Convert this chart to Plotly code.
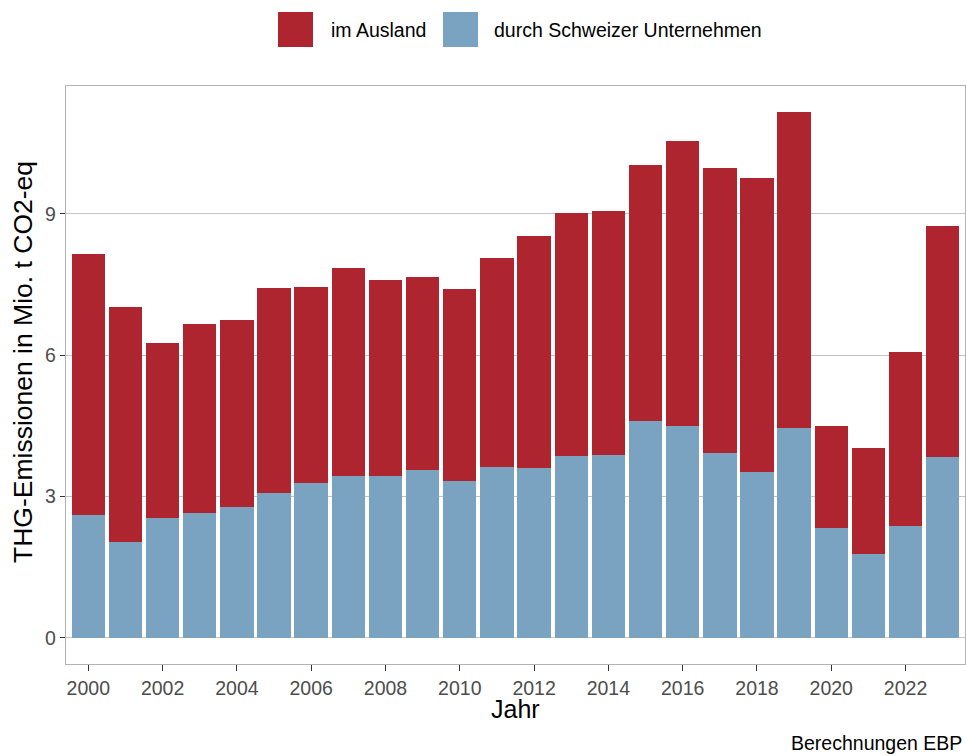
import plotly.graph_objects as go

# ---- data ----
years = list(range(2000, 2024))
total = [8.14, 7.03, 6.25, 6.66, 6.74, 7.43, 7.44, 7.85, 7.60, 7.66, 7.41, 8.07,
         8.53, 9.02, 9.06, 10.05, 10.55, 9.97, 9.77, 11.16, 4.49, 4.02, 6.07, 8.75]
schweiz = [2.60, 2.04, 2.55, 2.65, 2.77, 3.07, 3.28, 3.44, 3.43, 3.57, 3.33, 3.62,
           3.60, 3.86, 3.88, 4.60, 4.50, 3.93, 3.53, 4.45, 2.32, 1.77, 2.38, 3.83]
ausland = [round(t - s, 2) for t, s in zip(total, schweiz)]
series_names = ["im Ausland", "durch Schweizer Unternehmen"]
x_ticks = list(range(2000, 2024, 2))
y_ticks = [0, 3, 6, 9]
y_title = "THG-Emissionen in Mio. t CO2-eq"
x_title = "Jahr"
caption = "Berechnungen EBP"

RED = "#AE2530"
BLUE = "#7AA2C1"
FONT = "Liberation Sans, Arial, sans-serif"

W, H = 966, 756
ML, MR, MT, MB = 66, 1, 86, 92
PW, PH = W - ML - MR, H - MT - MB


def px(x):
    return (x - ML) / PW


def py(y):
    return (H - MB - y) / PH


fig = go.Figure()
fig.add_trace(go.Bar(x=years, y=schweiz, name=series_names[1], marker_color=BLUE,
                     marker_line_width=0, showlegend=False))
fig.add_trace(go.Bar(x=years, y=ausland, name=series_names[0], marker_color=RED,
                     marker_line_width=0, showlegend=False))

# custom legend (large square keys, as in the reference)
shapes = []
annotations = []
for (x0, col, label, tx) in [(278, RED, series_names[0], 329), (443, BLUE, series_names[1], 492)]:
    shapes.append(dict(type="rect", xref="paper", yref="paper",
                       x0=px(x0), x1=px(x0 + 35), y0=py(47), y1=py(12),
                       fillcolor=col, line_width=0))
    annotations.append(dict(text=label, xref="paper", yref="paper", x=px(tx), y=py(30),
                            xanchor="left", yanchor="middle", showarrow=False,
                            font=dict(family=FONT, size=19.5, color="#000000")))

annotations.append(dict(text=caption, xref="paper", yref="paper", x=px(964), y=py(743),
                        xanchor="right", yanchor="middle", showarrow=False,
                        font=dict(family=FONT, size=19.5, color="#000000")))
annotations.append(dict(text=x_title, xref="paper", yref="paper", x=0.5, y=py(709),
                        xanchor="center", yanchor="middle", showarrow=False,
                        font=dict(family=FONT, size=25, color="#000000")))
annotations.append(dict(text=y_title, xref="paper", yref="paper", x=px(23), y=py(362),
                        xanchor="center", yanchor="middle", showarrow=False, textangle=-90,
                        font=dict(family=FONT, size=26.5, color="#000000")))

fig.update_layout(
    width=W, height=H,
    margin=dict(l=ML, r=MR, t=MT, b=MB),
    barmode="stack", bargap=0.1,
    plot_bgcolor="white", paper_bgcolor="white",
    shapes=shapes, annotations=annotations,
    font=dict(family=FONT, size=19, color="#4D4D4D"),
)
fig.update_xaxes(range=[1999.4, 2023.6], tickvals=x_ticks, ticktext=[str(v) for v in x_ticks],
                 showgrid=False, zeroline=False, showline=True, mirror=True,
                 linecolor="#B3B3B3", linewidth=1.3,
                 ticks="outside", ticklen=6, tickwidth=1.3, tickcolor="#333333",
                 tickfont=dict(family=FONT, size=19.5, color="#4D4D4D"))
fig.update_yaxes(range=[-0.558, 11.718], tickvals=y_ticks,
                 showgrid=True, gridcolor="#C4C4C4", gridwidth=1.3, zeroline=False,
                 showline=True, mirror=True, linecolor="#B3B3B3", linewidth=1.3,
                 ticks="outside", ticklen=5, tickwidth=1.3, tickcolor="#333333",
                 tickfont=dict(family=FONT, size=19.5, color="#4D4D4D"))

fig.write_html("out.html", config={"displayModeBar": False},
               post_script="document.body.style.margin='0';document.body.style.overflow='hidden';")
